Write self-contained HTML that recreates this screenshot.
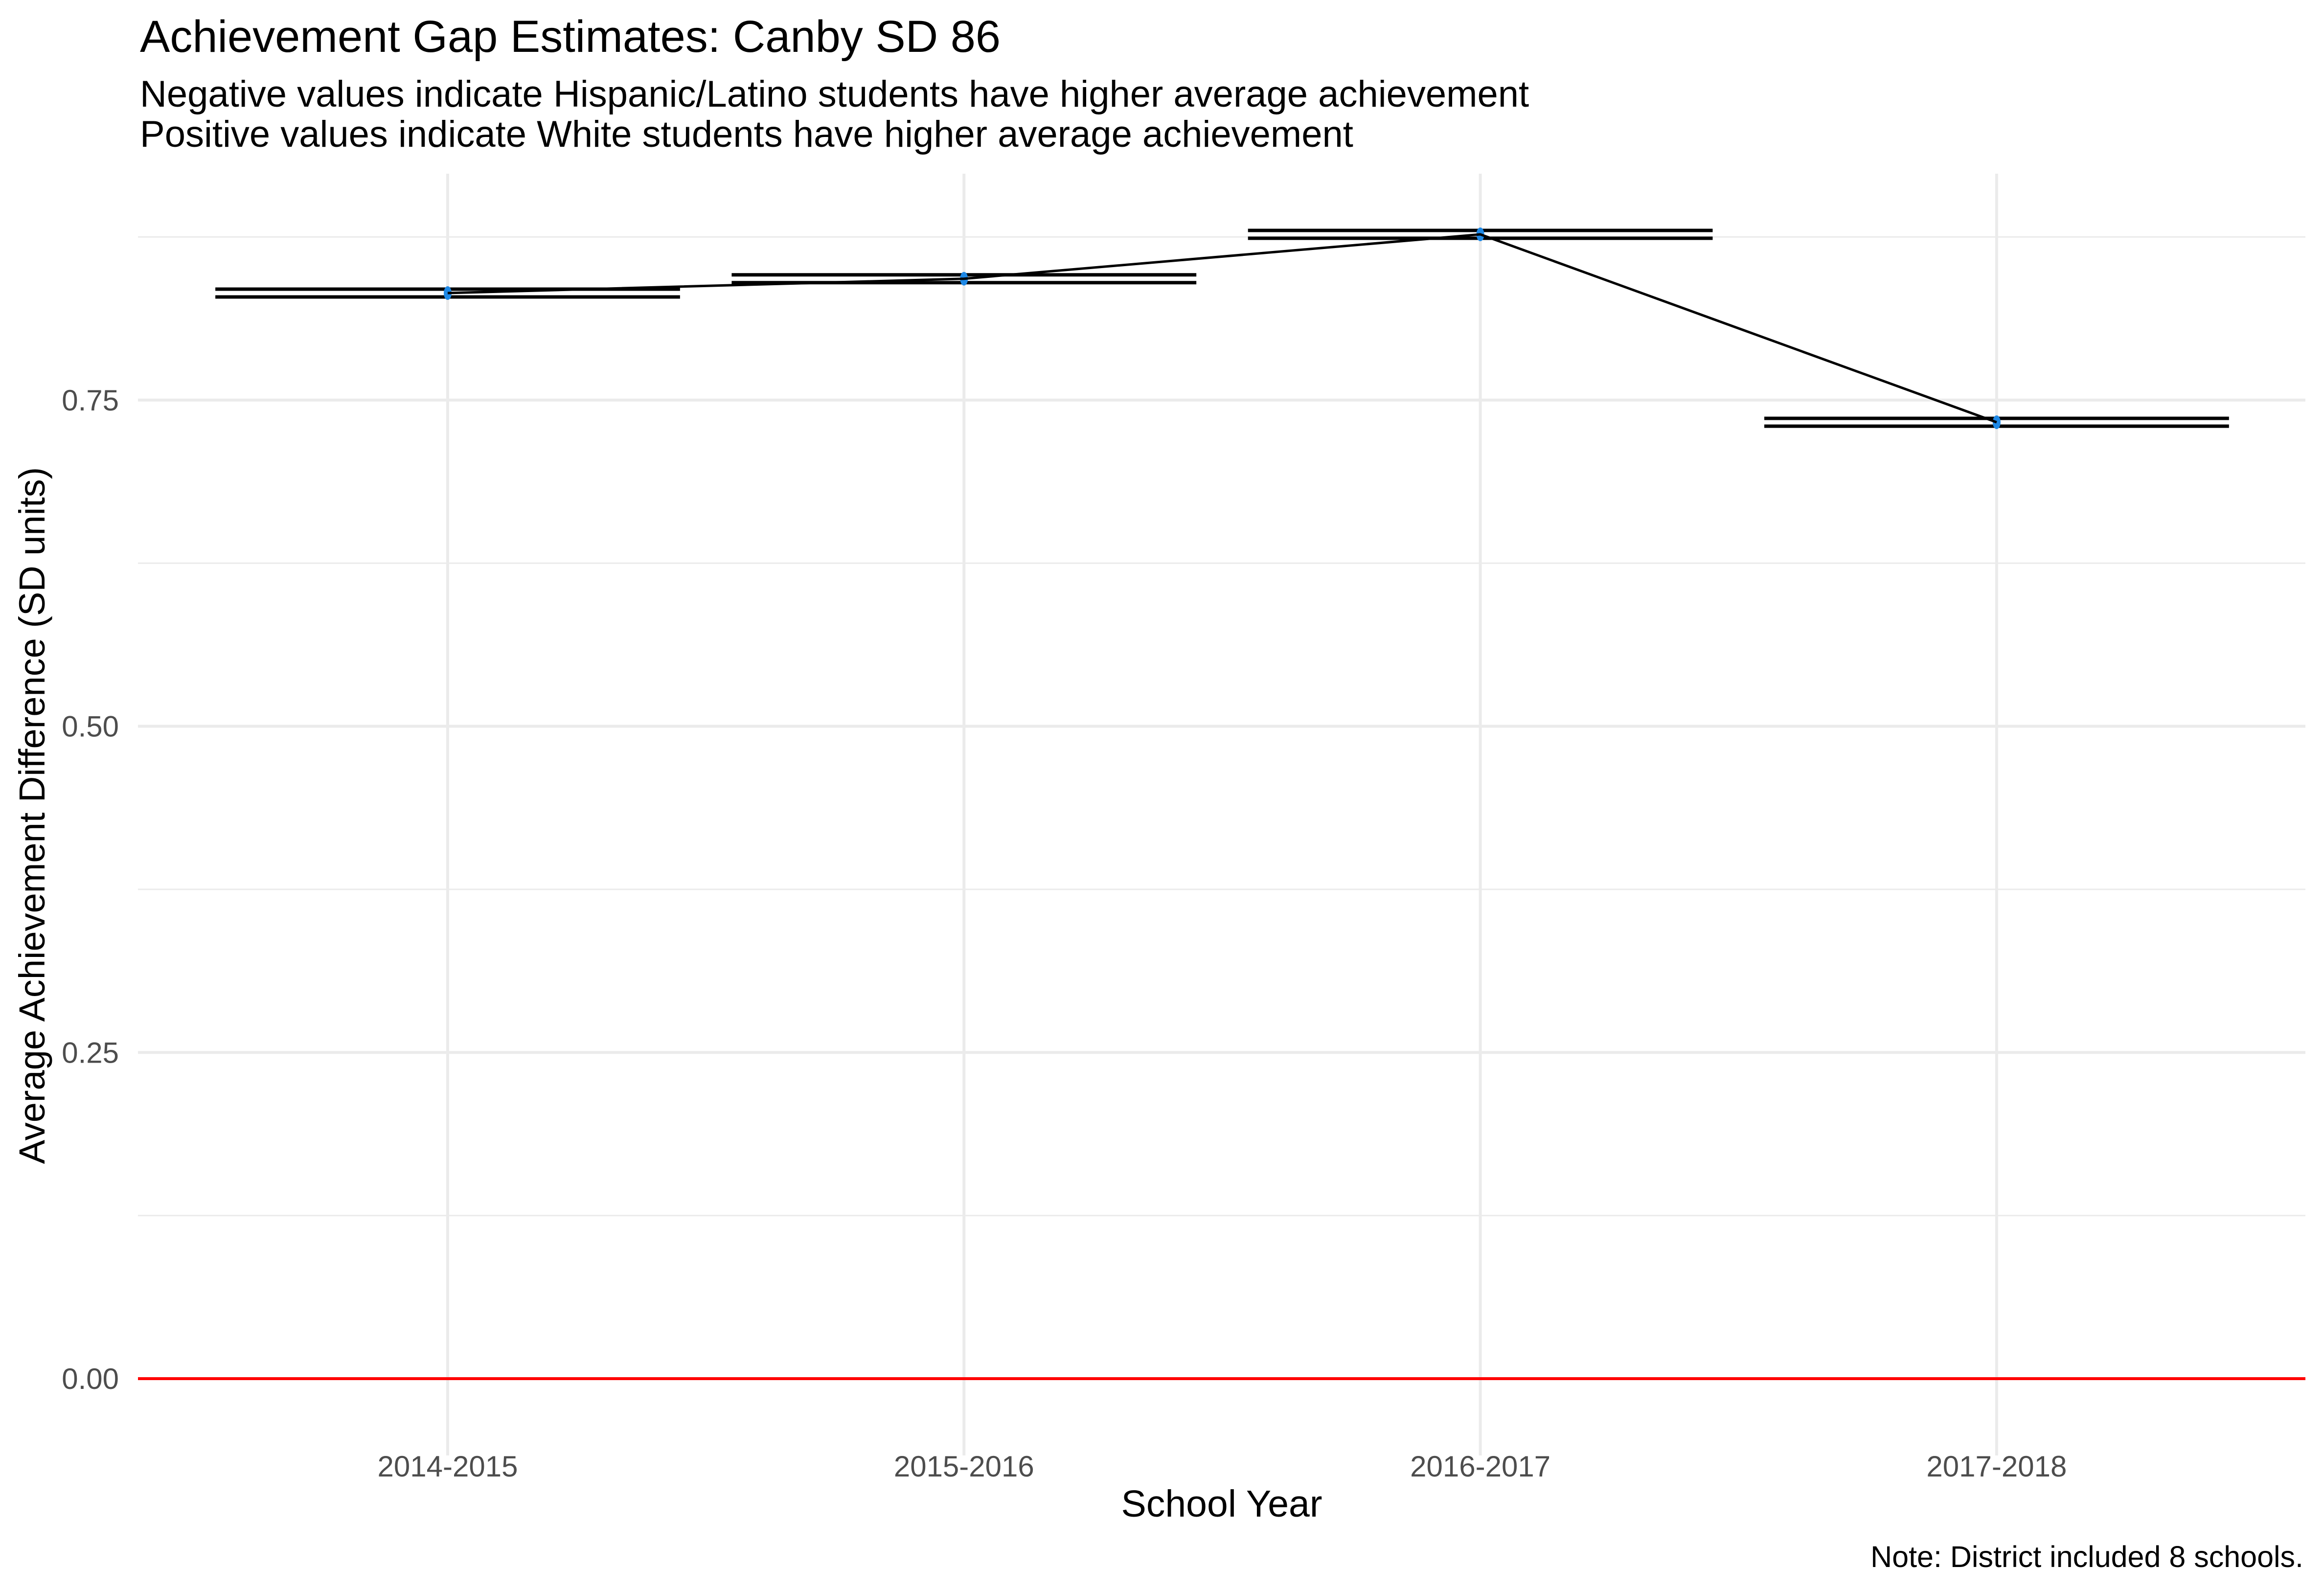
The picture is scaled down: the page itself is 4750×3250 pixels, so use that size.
<!DOCTYPE html>
<html><head><meta charset="utf-8"><style>
html,body{margin:0;padding:0;background:#fff;}
svg{display:block;font-family:"Liberation Sans",Arial,sans-serif;}
</style></head><body>
<svg id="chart" width="4750" height="3250" viewBox="0 0 4750 3250" xmlns="http://www.w3.org/2000/svg">
<rect width="4750" height="3250" fill="#fff"/>
<text x="286" y="106" font-size="92" fill="#000">Achievement Gap Estimates: Canby SD 86</text>
<text x="286" y="218" font-size="76" fill="#000">Negative values indicate Hispanic/Latino students have higher average achievement</text>
<text x="286" y="300" font-size="76" fill="#000">Positive values indicate White students have higher average achievement</text>
<g id="grid"></g>
<g id="marks"></g>
<g id="axes"></g>
<text x="2497" y="3100" font-size="77" text-anchor="middle" fill="#000">School Year</text>
<text transform="translate(91,1667) rotate(-90)" font-size="74" text-anchor="middle" fill="#000">Average Achievement Difference (SD units)</text>
<text x="4708" y="3203" font-size="61" text-anchor="end" fill="#000">Note: District included 8 schools.</text>
</svg>
<script>
const categories = ["2014-2015","2015-2016","2016-2017","2017-2018"];
const estimates = [0.832, 0.843, 0.877, 0.733];
const lowerCI = [0.829, 0.840, 0.874, 0.730];
const upperCI = [0.835, 0.846, 0.880, 0.736];
const yTicks = [0, 0.25, 0.5, 0.75];
const yTickLabels = ["0.00","0.25","0.50","0.75"];
const yMinorTicks = [0.125, 0.375, 0.625, 0.875];

const NS = "http://www.w3.org/2000/svg";
const PL = 282, PR = 4712, PT = 355, PB = 2975;
function xScale(i){ return 915 + 1055.3 * i; }
function yScale(v){ return 2818 - v * 2667; }
function mk(tag, attrs, parent){
  const e = document.createElementNS(NS, tag);
  for (const k in attrs) e.setAttribute(k, attrs[k]);
  parent.appendChild(e);
  return e;
}
const grid = document.getElementById('grid');
const marks = document.getElementById('marks');
const axes = document.getElementById('axes');

yMinorTicks.forEach(v => {
  const l = mk('line', {x1:PL, x2:PR, y1:yScale(v), y2:yScale(v), stroke:'#ebebeb', 'stroke-width':3}, grid);
  
  
});
yTicks.forEach((v, i) => {
  const l = mk('line', {x1:PL, x2:PR, y1:yScale(v), y2:yScale(v), stroke:'#ebebeb', 'stroke-width':6}, grid);
  
  
  const t = mk('text', {x:243, y:yScale(v)+21, 'font-size':60, 'text-anchor':'end', fill:'#4d4d4d'}, axes);
  t.textContent = yTickLabels[i];
  
  
});
categories.forEach((c, i) => {
  const l = mk('line', {x1:xScale(i), x2:xScale(i), y1:PT, y2:PB, stroke:'#ebebeb', 'stroke-width':6}, grid);
  
  
  const t = mk('text', {x:xScale(i), y:3018, 'font-size':60, 'text-anchor':'middle', fill:'#4d4d4d'}, axes);
  t.textContent = c;
  
  
});
const zl = mk('line', {x1:PL, x2:PR, y1:yScale(0), y2:yScale(0), stroke:'#ff0000', 'stroke-width':6}, marks);



const hw = 0.45 * 1055.3;
categories.forEach((c, i) => {
  [lowerCI[i], upperCI[i]].forEach(v => {
    const b = mk('line', {x1:xScale(i)-hw, x2:xScale(i)+hw, y1:yScale(v), y2:yScale(v), stroke:'#000', 'stroke-width':7}, marks);
    
    
  });
  const v = mk('line', {x1:xScale(i), x2:xScale(i), y1:yScale(upperCI[i]), y2:yScale(lowerCI[i]), stroke:'#000', 'stroke-width':7}, marks);
  
  
});
categories.forEach((c, i) => {
  const p = mk('ellipse', {cx:xScale(i), cy:yScale(estimates[i]), rx:8, ry:14, fill:'#1e88e5'}, marks);
  
  
});
const pts = estimates.map((v, i) => xScale(i) + ',' + yScale(v)).join(' ');
const pl = mk('polyline', {points:pts, fill:'none', stroke:'#000', 'stroke-width':5}, marks);


</script>
</body></html>
